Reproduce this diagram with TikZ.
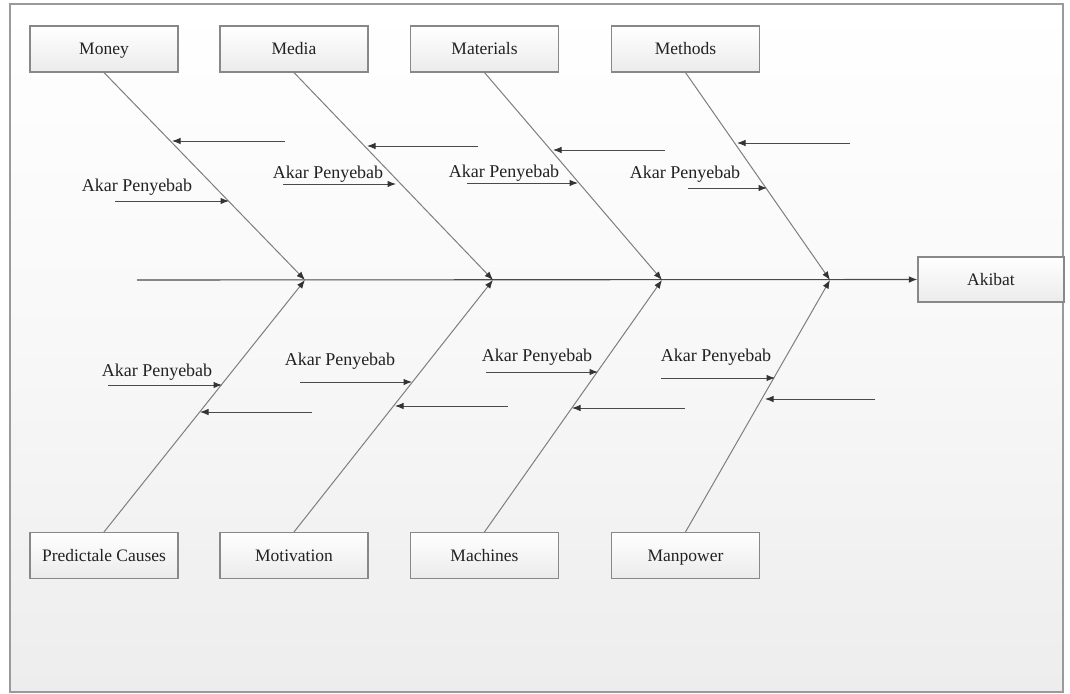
\documentclass[tikz,border=0pt]{standalone}
\usepackage{fontspec}
\setmainfont{Liberation Serif}
\usetikzlibrary{arrows.meta}
\definecolor{framegray}{HTML}{9A9A9A}
\definecolor{bonegray}{HTML}{7E7E7E}
\definecolor{arrowgray}{HTML}{4A4A4A}
\definecolor{tipgray}{HTML}{333333}
\definecolor{textgray}{HTML}{222222}
\definecolor{boxedge}{HTML}{888888}
\definecolor{boxlow}{HTML}{EBEBEB}
\definecolor{panellow}{HTML}{EDEDED}
\begin{document}
\begin{tikzpicture}[x=1pt,y=-1pt,
  catbox/.style={draw=boxedge, line width=1.1pt, top color=white, bottom color=boxlow,
    minimum width=148pt, minimum height=46pt, inner sep=0pt,
    text height=12.5pt, text depth=0.5pt,
    font=\fontsize{17.5}{20}\selectfont, text=textgray},
  rootlabel/.style={inner sep=0pt, font=\fontsize{18}{20}\selectfont, text=textgray},
  tip/.style={-{Latex[length=8.5pt,width=6.5pt,color=tipgray]}},
  bone/.style={draw=bonegray, line width=1pt, tip},
  cause/.style={draw=arrowgray, line width=1pt, tip},
  spine/.style={draw=arrowgray, line width=1.1pt, tip}]

% canvas and frame
\useasboundingbox (0,0) rectangle (1070,693);
\shade[top color=white, bottom color=panellow, middle color=white!60!panellow] (10,4) rectangle (1063,692);
\draw[framegray, line width=1.2pt] (10,4) rectangle (1063,692);

% category boxes
\node[catbox] (money)     at (104,49)  {Money};
\node[catbox] (media)     at (294,49)  {Media};
\node[catbox] (materials) at (484.5,49) {Materials};
\node[catbox] (methods)   at (685.5,49) {Methods};
\node[catbox] (predict)   at (104,555.5)  {Predictale Causes};
\node[catbox] (motiv)     at (294,555.5)  {Motivation};
\node[catbox] (machines)  at (484.5,555.5) {Machines};
\node[catbox] (manpower)  at (685.5,555.5) {Manpower};
\node[catbox, minimum width=146pt, minimum height=45pt] (akibat) at (991,279.5) {Akibat};

% spine and junctions
\coordinate (tail) at (137,280);
\coordinate (j1) at (305,280);
\coordinate (j2) at (493,280);
\coordinate (j3) at (662,280);
\coordinate (j4) at (830,280);
\draw[spine] (tail) -- (akibat.west);

% bones
\draw[bone] (money.south) -- (j1);
\draw[bone] (media.south) -- (j2);
\draw[bone] (materials.south) -- (j3);
\draw[bone] (methods.south) -- (j4);
\draw[bone] (predict.north) -- (j1);
\draw[bone] (motiv.north) -- (j2);
\draw[bone] (machines.north) -- (j3);
\draw[bone] (manpower.north) -- (j4);

% root cause labels
\node[rootlabel] (r1) at (137,187) {Akar Penyebab};
\node[rootlabel] (r2) at (328,174) {Akar Penyebab};
\node[rootlabel] (r3) at (504,173) {Akar Penyebab};
\node[rootlabel] (r4) at (685,174) {Akar Penyebab};
\node[rootlabel] (r5) at (157,372) {Akar Penyebab};
\node[rootlabel] (r6) at (340,361) {Akar Penyebab};
\node[rootlabel] (r7) at (537,357) {Akar Penyebab};
\node[rootlabel] (r8) at (716,357) {Akar Penyebab};

% sub-cause arrow end points
\coordinate (a1s) at (115,201); \coordinate (a1e) at (229,201);
\coordinate (a2s) at (283,184); \coordinate (a2e) at (396,184);
\coordinate (a3s) at (467,183); \coordinate (a3e) at (578,183);
\coordinate (a4s) at (688,188); \coordinate (a4e) at (767,188);
\coordinate (a5s) at (108,385); \coordinate (a5e) at (222,385);
\coordinate (a6s) at (300,382); \coordinate (a6e) at (412,382);
\coordinate (a7s) at (486,372); \coordinate (a7e) at (598,372);
\coordinate (a8s) at (661,378); \coordinate (a8e) at (775,378);

\coordinate (b1s) at (285,141); \coordinate (b1e) at (172,141);
\coordinate (b2s) at (478,146); \coordinate (b2e) at (367,146);
\coordinate (b3s) at (665,150); \coordinate (b3e) at (553,150);
\coordinate (b4s) at (850,143); \coordinate (b4e) at (737,143);
\coordinate (b5s) at (312,412); \coordinate (b5e) at (200,412);
\coordinate (b6s) at (508,406); \coordinate (b6e) at (395,406);
\coordinate (b7s) at (685,408); \coordinate (b7e) at (572,408);
\coordinate (b8s) at (875,399); \coordinate (b8e) at (765,399);

\foreach \i in {1,...,8}{
  \draw[cause] (a\i s) -- (a\i e);
  \draw[cause] (b\i s) -- (b\i e);
}
\end{tikzpicture}
\end{document}
